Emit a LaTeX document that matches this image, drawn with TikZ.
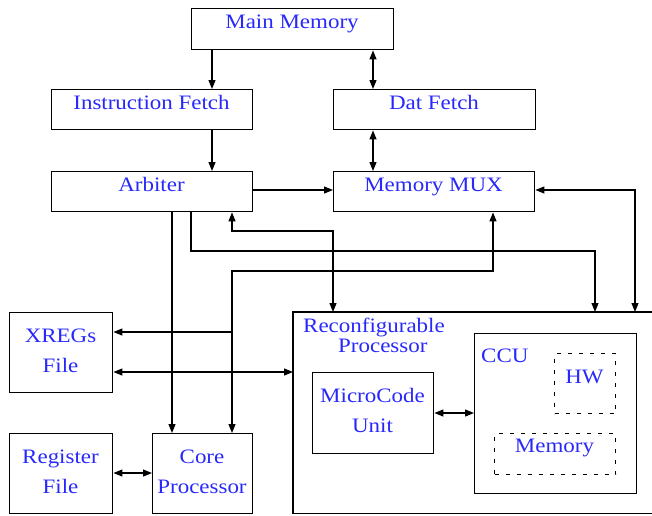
\documentclass[tikz,border=0pt]{standalone}
\usepackage{fontspec}
\setmainfont{Liberation Serif}[FakeStretch=1.12]
\usetikzlibrary{arrows.meta}
\definecolor{txt}{RGB}{40,40,250}
\tikzset{
  box/.style={draw, line width=1.4pt, inner sep=0pt, anchor=north west},
  dbox/.style={draw, line width=1.1pt, dash pattern=on 4pt off 7pt, inner sep=0pt, anchor=north west},
  lbl/.style={text=txt, font=\fontsize{20.5}{30}\selectfont, inner sep=0pt, anchor=base, align=center},
  con/.style={line width=1.2pt, -{Triangle[length=9pt,width=7pt]}},
  bicon/.style={line width=1.2pt, {Triangle[length=9pt,width=7pt]}-{Triangle[length=9pt,width=7pt]}},
  frame/.style={line width=1.4pt},
}
\begin{document}
\begin{tikzpicture}[x=1pt,y=-1pt]
\useasboundingbox (0,0) rectangle (652,515);
% boxes
\node[box, minimum width=202pt, minimum height=41pt] (MM) at (191,8) {};
\node[box, minimum width=201pt, minimum height=40pt] (IF) at (51,89) {};
\node[box, minimum width=202pt, minimum height=40pt] (DF) at (333,89) {};
\node[box, minimum width=201pt, minimum height=40pt] (ARB) at (51,171) {};
\node[box, minimum width=201pt, minimum height=40pt] (MUX) at (333,171) {};
\node[box, minimum width=103pt, minimum height=80pt] (XR) at (9,312) {};
\node[box, minimum width=103pt, minimum height=80pt] (RF) at (9,433) {};
\node[box, minimum width=100pt, minimum height=80pt] (CP) at (152,433) {};
\node[anchor=north west, inner sep=0pt, minimum width=370pt, minimum height=201pt] (RP) at (293,312) {};
\coordinate (bbR) at (652,0);
\draw[frame] (RP.north west -| bbR) -- (RP.north west) -- (RP.south west) -- (RP.south west -| bbR);
\node[box, minimum width=121pt, minimum height=81pt] (MC) at (312,372) {};
\node[box, minimum width=162pt, minimum height=160pt] (CCU) at (474,333) {};
\node[dbox, minimum width=61pt, minimum height=60pt] (HW) at (554,353) {};
\node[dbox, minimum width=121pt, minimum height=41pt] (MEM) at (494,433) {};
% labels
\node[lbl] (tMM) at (292,28) {Main Memory};
\node[lbl] (tIF) at (151.5,109) {Instruction Fetch};
\node[lbl] (tDF) at (434,109) {Dat Fetch};
\node[lbl] (tARB) at (151.5,191) {Arbiter};
\node[lbl] (tMUX) at (433.5,191) {Memory MUX};
\node[lbl] (tXR) at (60.5,372) {XREGs\\File};
\node[lbl] (tRF) at (60.5,493) {Register\\File};
\node[lbl] (tCP) at (202,493) {Core\\Processor};
\node[lbl] (tMC) at (372.5,432) {MicroCode\\Unit};
\node[lbl, anchor=base west, align=left, font=\fontsize{20.5}{20}\selectfont] (tRP) at (303,352) {Reconfigurable\\\hspace*{35pt}Processor};
\node[lbl, anchor=base west] (tCCU) at (481,362) {CCU};
\node[lbl] (tHW) at (584.5,383) {HW};
\node[lbl] (tMEM) at (554.5,452) {Memory};
% helper coordinates
\coordinate (cA) at (212,0);
\coordinate (cB) at (373,0);
\coordinate (cC) at (172,0);
\coordinate (cD) at (191,0);
\coordinate (cE) at (232,0);
\coordinate (cF) at (333,0);
\coordinate (cG) at (493,0);
\coordinate (cH) at (595,0);
\coordinate (cI) at (635,0);
\coordinate (rM) at (0,190);
\coordinate (r231) at (0,231);
\coordinate (r251) at (0,251);
\coordinate (r271) at (0,271);
\coordinate (r332) at (0,332);
\coordinate (r372) at (0,372);
\coordinate (r413) at (0,413);
\coordinate (r473) at (0,473);
% connectors
\draw[con] (MM.south -| cA) -- (IF.north -| cA);
\draw[bicon] (MM.south -| cB) -- (DF.north -| cB);
\draw[con] (IF.south -| cA) -- (ARB.north -| cA);
\draw[bicon] (DF.south -| cB) -- (MUX.north -| cB);
\draw[con] (ARB.east |- rM) -- (MUX.west |- rM);
\draw[bicon] (MUX.east |- rM) -- (cI |- rM) -- (RP.north -| cI);
\draw[con] (ARB.south -| cC) -- (CP.north -| cC);
\draw[con] (ARB.south -| cD) -- (cD |- r251) -- (cH |- r251) -- (RP.north -| cH);
\draw[bicon] (ARB.south -| cE) -- (cE |- r231) -- (cF |- r231) -- (RP.north -| cF);
\draw[bicon] (MUX.south -| cG) -- (cG |- r271) -- (cE |- r271) -- (CP.north -| cE);
\draw[con] (cE |- r332) -- (XR.east |- r332);
\draw[bicon] (XR.east |- r372) -- (RP.west |- r372);
\draw[bicon] (RF.east |- r473) -- (CP.west |- r473);
\draw[bicon] (MC.east |- r413) -- (CCU.west |- r413);
\end{tikzpicture}
\end{document}
